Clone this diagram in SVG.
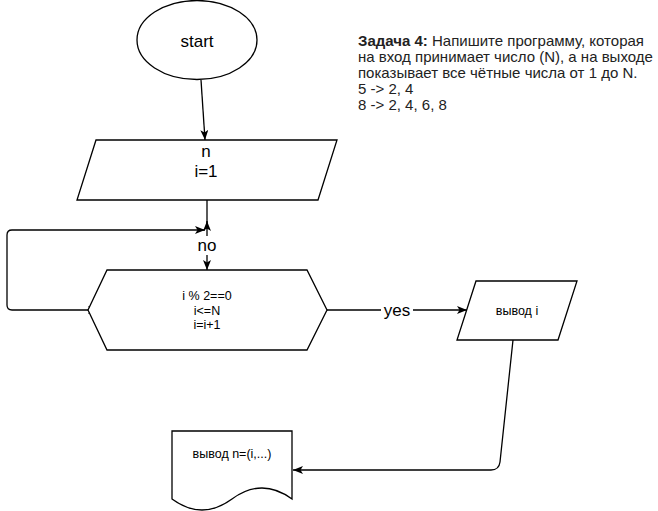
<svg xmlns="http://www.w3.org/2000/svg" width="658" height="511" viewBox="0 0 658 511">
<style>
.s{fill:#fff;stroke:#000;stroke-width:1.3}
.e{fill:none;stroke:#000;stroke-width:1.3}
text{font-family:"Liberation Sans",Arial,sans-serif;fill:#000;text-anchor:middle}
.big{font-size:17px}
.sm{font-size:12.5px}
.note{font-size:15px;text-anchor:start;fill:#222}
</style>
<defs>
<marker id="a" viewBox="0 0 10 8" refX="10" refY="4" markerWidth="10" markerHeight="8" markerUnits="userSpaceOnUse" orient="auto-start-reverse">
<path d="M0,0 L10,4 L0,8 L2.5,4 Z" fill="#000"/>
</marker>
</defs>
<rect width="658" height="511" fill="#fff"/>
<g id="connectors">
<path class="e" d="M201,80 L205,140" marker-end="url(#a)"/>
<path class="e" d="M207,200 L207,270" marker-end="url(#a)"/>
<path class="e" d="M207,229 L207,221" marker-end="url(#a)"/>
<path class="e" d="M98,310 H12 Q7,310 7,305 V235 Q7,230 12,230 H205" marker-start="url(#a)" marker-end="url(#a)"/>
<rect x="195" y="236" width="24" height="19" fill="#fff"/>
<text class="big" x="207" y="251">no</text>
<path class="e" d="M327,310 L467,310" marker-end="url(#a)"/>
<rect x="381" y="301" width="32" height="19" fill="#fff"/>
<text class="big" x="397" y="316">yes</text>
<path class="e" d="M513,340 L500,462 Q499,470 491,470 H293" marker-end="url(#a)"/>
</g>
<g id="start">
<ellipse class="s" cx="197" cy="40" rx="60" ry="39.5"/>
<text class="big" x="197" y="47">start</text>
</g>
<g id="input">
<path class="s" d="M96,140 H337 L318,200 H77 Z"/>
<text class="big" x="206" y="157">n</text>
<text class="big" x="206" y="177">i=1</text>
</g>
<g id="loop">
<path class="s" d="M107,270 H307 L327,310 L307,350 H107 L88,310 Z"/>
<text class="sm" x="207" y="300">i % 2==0</text>
<text class="sm" x="207" y="314.5">i&lt;=N</text>
<text class="sm" x="207" y="329">i=i+1</text>
</g>
<g id="out-i">
<path class="s" d="M476,281 H577 L558,340 H457 Z"/>
<text class="sm" x="517" y="314.5">вывод i</text>
</g>
<g id="out-n">
<path class="s" d="M172,431 H292 V499 Q262,477 232,499 Q202,521 172,499 Z"/>
<text class="sm" x="232" y="458">вывод n=(i,...)</text>
</g>
<g id="task">
<text class="note" x="358" y="46"><tspan font-weight="bold">Задача 4:</tspan> Напишите программу, которая</text>
<text class="note" x="358" y="62">на вход принимает число (N), а на выходе</text>
<text class="note" x="358" y="78">показывает все чётные числа от 1 до N.</text>
<text class="note" x="358" y="94">5 -&gt; 2, 4</text>
<text class="note" x="358" y="110">8 -&gt; 2, 4, 6, 8</text>
</g>
</svg>
